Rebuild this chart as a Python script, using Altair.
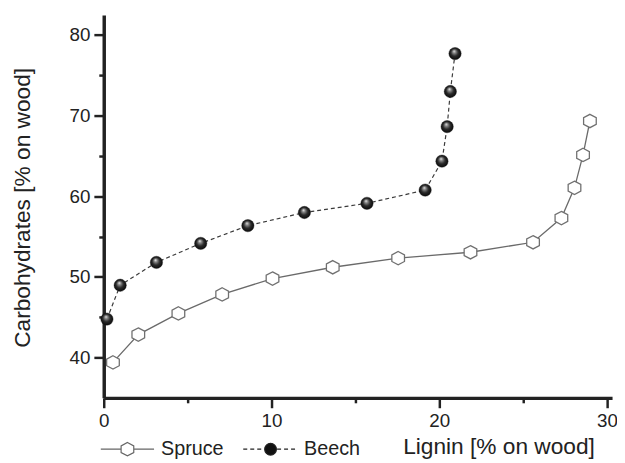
import altair as alt
import pandas as pd

series_names = ["Spruce", "Beech"]
spruce_x = [0.55, 2.06, 4.45, 7.06, 10.06, 13.65, 17.55, 21.86, 25.59, 27.28, 28.06, 28.57, 28.98]
spruce_y = [39.4, 42.85, 45.47, 47.83, 49.8, 51.2, 52.33, 53.06, 54.3, 57.3, 61.05, 65.13, 69.34]
beech_x = [0.19, 0.98, 3.14, 5.78, 8.59, 11.96, 15.69, 19.16, 20.16, 20.47, 20.66, 20.94]
beech_y = [44.77, 48.97, 51.8, 54.16, 56.36, 57.99, 59.13, 60.77, 64.36, 68.64, 73.0, 77.7]
x_ticks = [0, 5, 10, 15, 20, 25, 30]
y_ticks = [40, 45, 50, 55, 60, 65, 70, 75, 80]

rows = []
for i, (a, b) in enumerate(zip(spruce_x, spruce_y)):
    rows.append({"series": "Spruce", "lignin": a, "carb": b, "i": i})
for i, (a, b) in enumerate(zip(beech_x, beech_y)):
    rows.append({"series": "Beech", "lignin": a, "carb": b, "i": i})
df = pd.DataFrame(rows)

FONT = "Liberation Sans"
INK = "#222222"

HEX = "M0,-1 L0.95,-0.5 L0.95,0.5 L0,1 L-0.95,0.5 L-0.95,-0.5 Z"

# legend symbols: line + marker in one path
spruce_sym = "M-4,0 L-0.95,0 M0.95,0 L4,0 " + HEX
def dashed(a, b, on=0.6, off=0.45):
    parts = []
    p = a
    while p < b - 0.05:
        q = min(p + on, b)
        parts.append(f"M{p:.2f},0 L{q:.2f},0")
        p = q + off
    return " ".join(parts)
r = 0.88
beech_sym = (dashed(-4.1, -r) + " " + dashed(r + 0.1, 4.1) +
             f" M{-r},0 A{r},{r} 0 1,0 {r},0 A{r},{r} 0 1,0 {-r},0 Z")

sphere = {
    "gradient": "radial",
    "x1": 0.42, "y1": 0.3, "r1": 0.0,
    "x2": 0.5, "y2": 0.5, "r2": 0.55,
    "stops": [
        {"offset": 0.0, "color": "#f2f2f2"},
        {"offset": 0.22, "color": "#8a8a8a"},
        {"offset": 0.55, "color": "#2a2a2a"},
        {"offset": 1.0, "color": "#050505"},
    ],
}

tick_size = {"condition": {"test": "datum.value % 10 !== 0", "value": 5}, "value": 10}
label_expr = "datum.value % 10 === 0 ? datum.label : ''"

xenc = alt.X(
    "lignin:Q",
    scale=alt.Scale(domain=[0, 30.3], nice=False, zero=False),
    axis=alt.Axis(
        values=x_ticks, labelExpr=label_expr, tickSize=tick_size, tickWidth=2.5,
        domainWidth=3.5, domainColor=INK, tickColor=INK, grid=False,
        labelFont=FONT, labelFontSize=19, labelColor=INK, labelPadding=4,
        labelFlush=False, labelOverlap=False,
        title="Lignin [% on wood]", titleFont=FONT, titleFontSize=23,
        titleFontWeight="normal", titleColor=INK, titleX=400, titleY=56,
        titleAlign="center", titleBaseline="alphabetic",
    ),
)
yenc = alt.Y(
    "carb:Q",
    scale=alt.Scale(domain=[35, 82.5], nice=False, zero=False),
    axis=alt.Axis(
        values=y_ticks, labelExpr=label_expr, tickSize=tick_size, tickWidth=2.5,
        domainWidth=3.5, domainColor=INK, tickColor=INK, grid=False,
        labelFont=FONT, labelFontSize=19, labelColor=INK, labelPadding=4,
        labelFlush=False, labelOverlap=False,
        title="Carbohydrates [% on wood]", titleFont=FONT, titleFontSize=23,
        titleFontWeight="normal", titleColor=INK, titleX=-75, titleY=195,
        titleAngle=270, titleAlign="center", titleBaseline="alphabetic",
    ),
)

base = alt.Chart(df)

spruce_line = base.transform_filter("datum.series === 'Spruce'").mark_line(
    color="#6a6a6a", strokeWidth=1.3
).encode(x=xenc, y=yenc, order="i:Q")

beech_line = base.transform_filter("datum.series === 'Beech'").mark_line(
    color="#3a3a3a", strokeWidth=1.2, strokeDash=[4, 3]
).encode(x=xenc, y=yenc, order="i:Q")

spruce_pts = base.transform_filter("datum.series === 'Spruce'").mark_point(
    shape=HEX, size=182, filled=True, fill="white", stroke="#707070",
    strokeWidth=1.3, opacity=1
).encode(x=xenc, y=yenc)

beech_pts = base.transform_filter("datum.series === 'Beech'").mark_point(
    shape="circle", size=156, filled=True, fill=sphere, stroke="#111111",
    strokeWidth=0.4, opacity=1
).encode(x=xenc, y=yenc)

legend_layer = base.transform_filter("false").mark_point(opacity=1).encode(
    x=xenc, y=yenc,
    shape=alt.Shape("series:N", scale=alt.Scale(domain=series_names, range=[spruce_sym, beech_sym]),
                    legend=alt.Legend(
                        orient="none", legendX=14, legendY=430, direction="horizontal",
                        title=None, symbolSize=182, symbolStrokeWidth=1.2,
                        labelFont=FONT, labelFontSize=20, labelColor=INK,
                        labelOffset=24, columnPadding=16, padding=0,
                    )),
    fill=alt.Fill("series:N", scale=alt.Scale(domain=series_names, range=["white", "#111111"])),
    stroke=alt.Stroke("series:N", scale=alt.Scale(domain=series_names, range=["#666666", "#222222"])),
)

chart = alt.layer(spruce_line, beech_line, spruce_pts, beech_pts, legend_layer).properties(
    width=515, height=388,
    autosize=alt.AutoSizeParams(type="none"),
    padding={"left": 97, "top": 4, "right": 5, "bottom": 63},
    background="white",
).configure_view(strokeWidth=0)

chart.save("out.html", embed_options={"renderer": "svg", "actions": False})
